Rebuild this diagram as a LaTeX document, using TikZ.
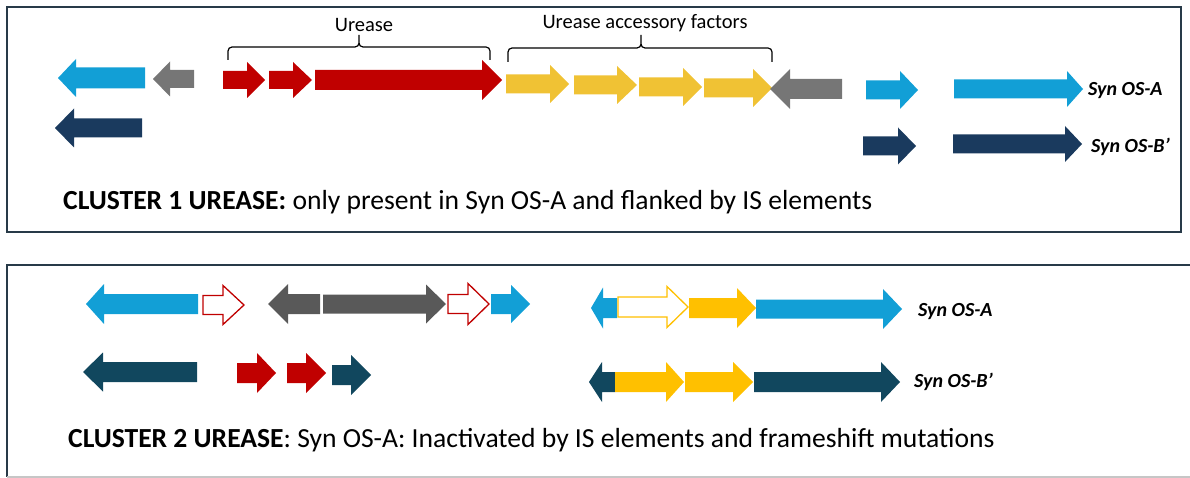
\documentclass[tikz,border=0pt]{standalone}
\usepackage{fontspec}
\setmainfont{Carlito}
\definecolor{lblue}{RGB}{18,159,214}
\definecolor{navy}{RGB}{26,58,94}
\definecolor{teal2}{RGB}{17,71,94}
\definecolor{grayA}{RGB}{118,118,118}
\definecolor{grayB}{RGB}{89,89,89}
\definecolor{redU}{RGB}{192,0,0}
\definecolor{yelA}{RGB}{240,194,52}
\definecolor{yelB}{RGB}{255,192,0}
\definecolor{frameC}{RGB}{40,58,72}
% right arrow: style, x-left, x-headbase, x-tip, y-centre, body half, head half
\newcommand{\rarr}[7]{\path[#1] (#2,#5-#6) -- (#3,#5-#6) -- (#3,#5-#7) -- (#4,#5) -- (#3,#5+#7) -- (#3,#5+#6) -- (#2,#5+#6) -- cycle;}
% left arrow: style, x-tip, x-headbase, x-right, y-centre, body half, head half
\newcommand{\larr}[7]{\path[#1] (#2,#5) -- (#3,#5-#7) -- (#3,#5-#6) -- (#4,#5-#6) -- (#4,#5+#6) -- (#3,#5+#6) -- (#3,#5+#7) -- cycle;}
\begin{document}
\begin{tikzpicture}[x=1pt,y=-1pt,
  panel/.style={draw=frameC,line width=2.4pt},
  brc/.style={draw=black,line width=1.2pt},
  lbl/.style={inner sep=0pt,font=\fontsize{20.5}{24}\selectfont},
  syn/.style={inner sep=0pt,anchor=west,font=\fontsize{20}{24}\selectfont\bfseries\itshape},
  captxt/.style={inner sep=0pt,anchor=west,font=\fontsize{27.6}{32}\selectfont},
  outl/.style={fill=white,line width=1.3pt,line join=miter}]
\useasboundingbox (0,0) rectangle (1190,478);
% ---------- panel frames ----------
\draw[panel] (7,7) rectangle (1181,232);
\begin{scope}
\clip (0,0) rectangle (1190,478);
\draw[panel] (1300,265) -- (7,265) -- (7,477);
\draw[draw=gray!45,line width=1.2pt] (7,477) -- (1300,477);
\end{scope}
% ---------- panel 1 ----------
\larr{fill=lblue}{58}{76}{145}{78}{10.5}{19}
\larr{fill=grayA}{153}{170}{194}{79}{9}{17.5}
\larr{fill=navy}{55}{74}{142}{128}{9.5}{19.5}
\rarr{fill=redU}{223}{247}{265}{80}{9}{18}
\rarr{fill=redU}{269}{293}{312}{80}{9}{18}
\rarr{fill=redU}{315}{482}{502}{80}{10}{20}
\rarr{fill=yelA}{506}{550}{569}{84}{9.5}{19}
\rarr{fill=yelA}{574}{617}{637}{85}{9.5}{19}
\rarr{fill=yelA}{639}{683}{702}{87}{9.5}{19}
\rarr{fill=yelA}{704}{753}{772}{88}{9.5}{19}
\larr{fill=grayA}{770}{790}{842}{89}{10}{20}
\rarr{fill=lblue}{866}{900}{918}{90}{9.5}{19}
\rarr{fill=lblue}{954}{1067}{1083}{89}{9.5}{18}
\rarr{fill=navy}{863}{898}{916}{146}{9.5}{18.5}
\rarr{fill=navy}{953}{1065}{1082}{144}{9.5}{18}
\node[syn] (synA1) at (1088,91) {Syn OS-A};
\node[syn] (synB1) at (1091,147) {Syn OS-B’};
% braces
\coordinate (b1l) at (228,60); \coordinate (b1m) at (359,35); \coordinate (b1r) at (490,60);
\draw[brc] (b1l) -- (228,51) to[out=90,in=180] (232,47) -- (355,47) to[out=0,in=-90] (b1m |- 0,43) -- (b1m)
  (b1m) -- (b1m |- 0,43) to[out=-90,in=180] (363,47) -- (486,47) to[out=0,in=90] (490,51) -- (b1r);
\node[lbl] (ur) at (364,25) {Urease};
\coordinate (b2l) at (508,62); \coordinate (b2m) at (641,35); \coordinate (b2r) at (772,62);
\draw[brc] (b2l) -- (508,52) to[out=90,in=180] (512,48) -- (637,48) to[out=0,in=-90] (b2m |- 0,44) -- (b2m)
  (b2m) -- (b2m |- 0,44) to[out=-90,in=180] (645,48) -- (768,48) to[out=0,in=90] (772,52) -- (b2r);
\node[lbl] (acc) at (645,23) {Urease accessory factors};
\node[captxt] (cap1) at (63,202) {\textbf{CLUSTER 1 UREASE:} only present in Syn OS-A and flanked by IS elements};
% ---------- panel 2 ----------
\larr{fill=lblue}{86}{104}{198}{304}{10}{20}
\rarr{outl,draw=redU}{203}{223}{244}{305}{9.5}{19.5}
\larr{fill=grayB}{268}{288}{320}{304}{10}{20}
\rarr{fill=grayB}{323}{426}{446}{304}{9.5}{19.5}
\rarr{outl,draw=redU}{448}{468}{489}{304}{9.5}{20.5}
\rarr{fill=lblue}{491}{511}{530}{304}{10}{19}
\larr{fill=teal2}{83}{103}{197}{372}{10}{19.5}
\rarr{fill=redU}{237}{257}{276}{373}{10}{20}
\rarr{fill=redU}{287}{306}{326}{373}{10}{20}
\rarr{fill=teal2}{332}{351}{371}{375}{10}{20}
\larr{fill=lblue}{591}{603}{617}{308}{10}{20.5}
\rarr{outl,draw=yelB}{618}{667}{688}{307}{10}{20.5}
\rarr{fill=yelB}{689}{737}{756}{308}{10}{20}
\rarr{fill=lblue}{756}{883}{902}{309}{9.5}{20}
\larr{fill=teal2}{589}{602}{615}{382}{10}{20}
\rarr{fill=yelB}{615}{666}{684}{382}{10}{20}
\rarr{fill=yelB}{685}{733}{753}{382}{10}{20}
\rarr{fill=teal2}{754}{881}{900}{382}{10}{20}
\node[syn] (synA2) at (918,312) {Syn OS-A};
\node[syn] (synB2) at (914,382) {Syn OS-B’};
\node[captxt] (cap2) at (68,440) {\textbf{CLUSTER 2 UREASE}: Syn OS-A: Inactivated by IS elements and frameshift mutations};
\end{tikzpicture}
\end{document}
